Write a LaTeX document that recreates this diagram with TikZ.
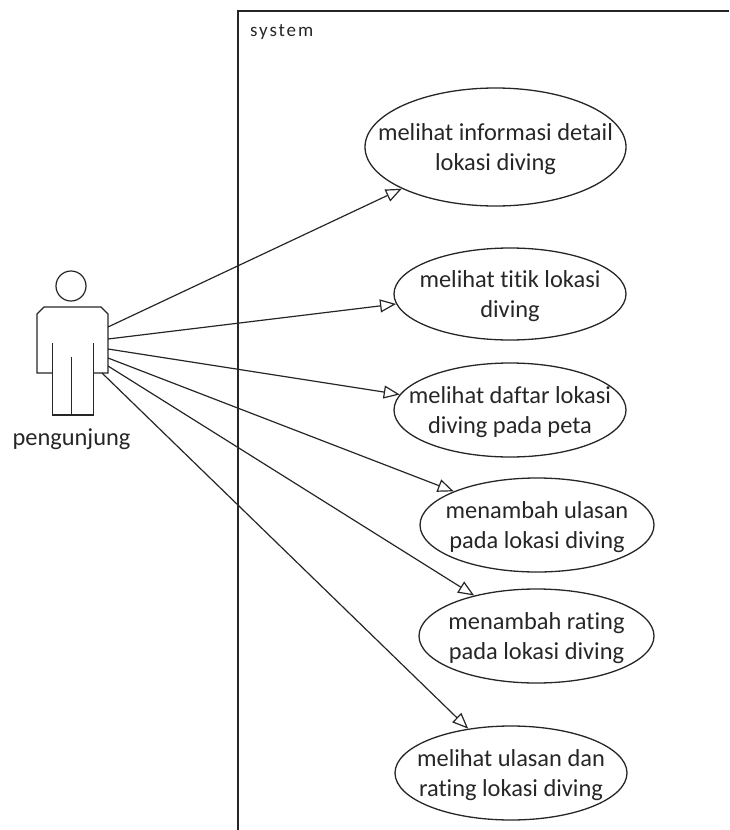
\documentclass[tikz,border=0pt]{standalone}
\usepackage{fontspec}
\setmainfont[Ligatures=NoCommon]{Carlito}
\usetikzlibrary{shapes.geometric,arrows.meta}
\definecolor{ink}{gray}{0.15}
\tikzset{
  usecase/.style={ellipse,draw=ink,line width=1.3pt,inner sep=0pt,minimum width=#1,minimum height=94pt},
  every label/.style={inner sep=0pt,align=center,text=ink,yshift=-2pt,font=\fontsize{24.4}{30}\selectfont},
  assoc/.style={draw=ink,line width=1.2pt,-{Triangle[open,length=16pt,width=13pt,line width=1.2pt]}},
  stroke/.style={draw=ink,line width=1.2pt,line join=miter}
}
\begin{document}
\begin{tikzpicture}[x=1pt,y=-1pt]
\useasboundingbox (0,0) rectangle (729,830);
\draw[stroke,line width=1.5pt] (238,830) -- (238,11) -- (729,11);
\node[anchor=west,inner sep=0pt,text=ink,font=\fontsize{19}{22}\selectfont\addfontfeature{LetterSpace=10}] (sys) at (250,32) {system};
% actor
\node[circle,stroke,minimum size=30pt,inner sep=0pt] (head) at (71,286) {};
\node[inner sep=0pt,minimum width=71pt,minimum height=108pt] (actor) at (72.5,361) {};
\draw[stroke] (52.5,373) -- (37,373) -- (37,314) -- (44,307) -- (101,307) -- (108,314) -- (108,373) -- (93.5,373);
\draw[stroke] (52.5,343) -- (52.5,415) -- (93.5,415) -- (93.5,343);
\draw[stroke] (71.5,357) -- (71.5,415);
\node[inner sep=0pt,text=ink,font=\fontsize{24.4}{28}\selectfont] (name) at (71.5,439) {pengunjung};
% use cases
\node[usecase=261pt,minimum height=118pt,label=center:{melihat informasi detail\\lokasi diving}] (e1) at (495.5,147) {};
\node[usecase=232pt,minimum height=92pt,label=center:{melihat titik lokasi\\diving}] (e2) at (510,294) {};
\node[usecase=232pt,label=center:{melihat daftar lokasi\\diving pada peta}] (e3) at (510,410) {};
\node[usecase=234pt,label=center:{menambah ulasan\\pada lokasi diving}] (e4) at (537,525) {};
\node[usecase=235pt,label=center:{menambah rating\\pada lokasi diving}] (e5) at (536.5,636) {};
\node[usecase=232pt,label=center:{melihat ulasan dan\\rating lokasi diving}] (e6) at (511,773) {};
% connector starts on the actor
\coordinate (s1) at (108,327);
\coordinate (s2) at (108,339);
\coordinate (s3) at (108,349);
\coordinate (s4) at (108,358);
\coordinate (s5) at (108,366);
\coordinate (s6) at (102,373);
\draw[assoc] (s1) -- (e1.204.4);
\draw[assoc] (s2) -- (e2.185);
\draw[assoc] (s3) -- (e3.172);
\draw[assoc] (s4) -- (e4.158.8);
\draw[assoc] (s5) -- (e5.147.8);
\draw[assoc] (s6) -- (e6.134.4);
\end{tikzpicture}
\end{document}
